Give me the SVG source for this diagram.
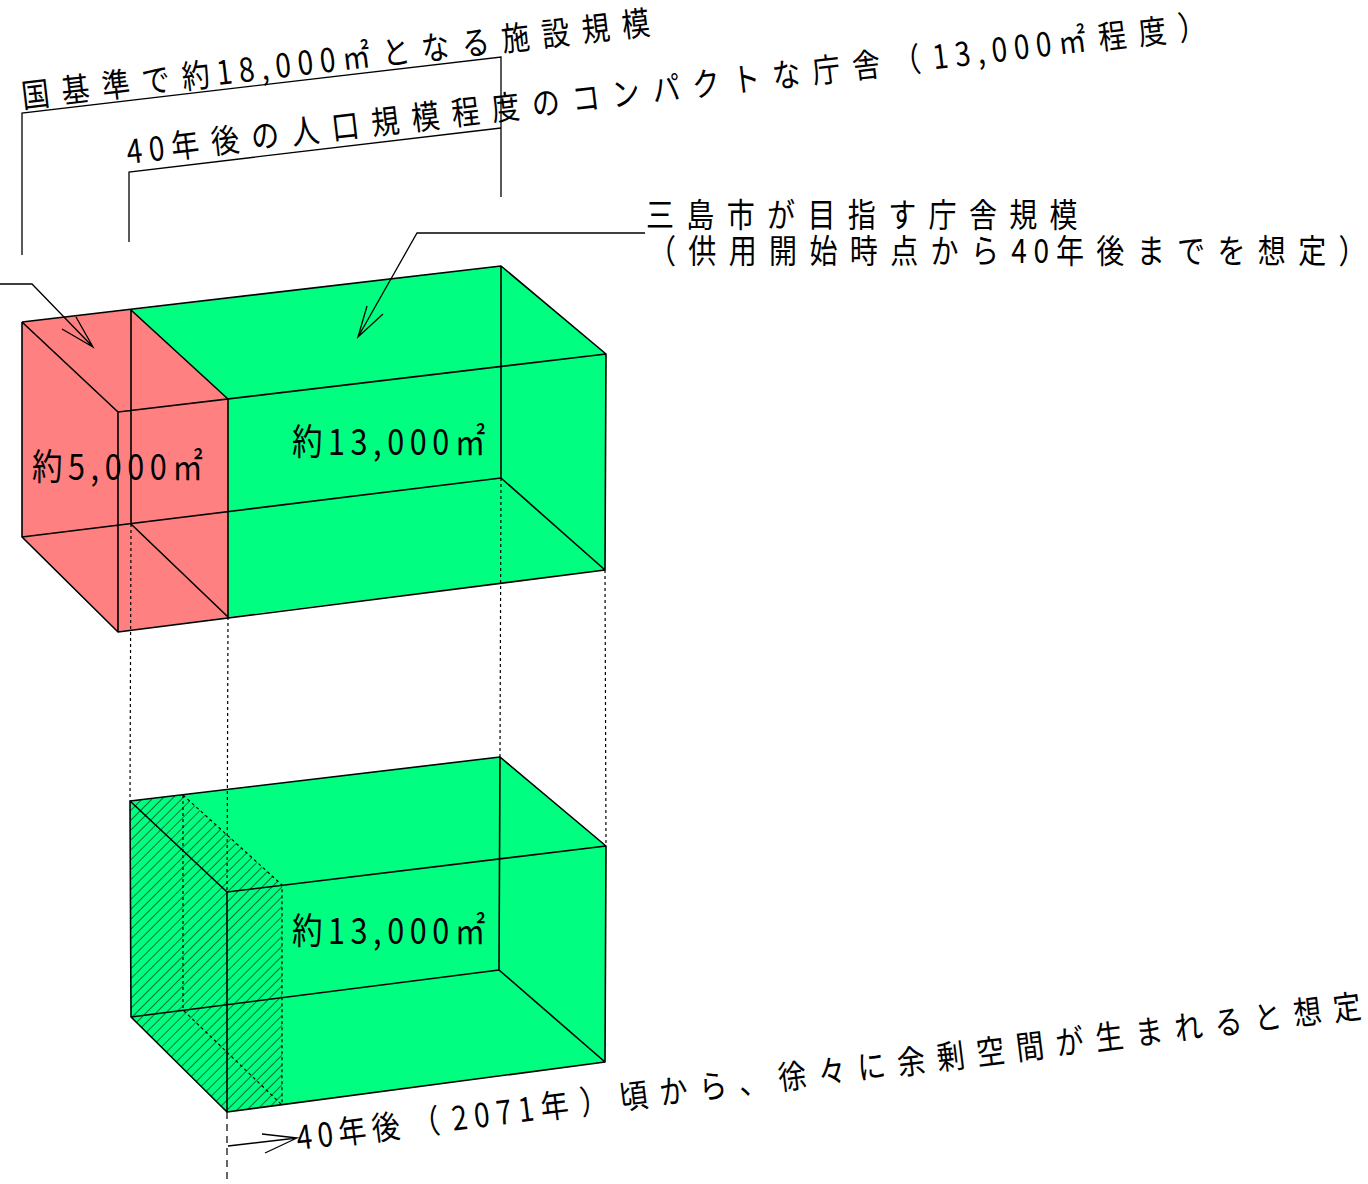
<svg xmlns="http://www.w3.org/2000/svg" width="1368" height="1184" viewBox="0 0 1368 1184">
<style>
.edge{fill:none;stroke:#000;stroke-width:1.6;stroke-linejoin:round}
.lead{fill:none;stroke:#000;stroke-width:1.3}
.dot{fill:none;stroke:#000;stroke-width:1.2;stroke-dasharray:3 3}
.dash{fill:none;stroke:#000;stroke-width:1.2;stroke-dasharray:7 5}
.pink{fill:#FF8080;stroke:none}
.green{fill:#00FF80;stroke:none}
.t{font-family:"Noto Sans CJK JP","Noto Sans",sans-serif;fill:#000;font-size:33px}
.big{font-size:36px}
.j{letter-spacing:14.5px}
.n{letter-spacing:8px}
.m{letter-spacing:6.5px}
</style>
<defs>
<pattern id="hatch" width="7" height="7" patternUnits="userSpaceOnUse" patternTransform="rotate(45)">
<line x1="0" y1="0" x2="0" y2="7" stroke="#000" stroke-width="1.1"/>
</pattern>
</defs>
<rect width="1368" height="1184" fill="#fff"/>

<g id="box-upper">
<polygon class="pink" points="22,322 131,310 228,399 228,617 118,632 22,537"/>
<polygon class="green" points="131,310 501,266 606,354 605,570 228,617 228,399"/>
<path class="edge" d="M22,322 L501,266 L606,354 L605,570 L118,632 L118,412 L606,354 M22,322 L118,412 M22,322 L22,537 L118,632 M22,537 L501,478 M501,266 L501,478 L605,570 M131,310 L131,524 L228,617 M131,310 L228,399 L228,617"/>
</g>

<g id="box-lower">
<polygon class="green" points="130,801 500,757 606,846 605,1062 227,1112 131,1017"/>
<polygon fill="url(#hatch)" points="130,801 183,795 282,885 282,1105 227,1112 131,1017"/>
<path class="edge" d="M130,801 L500,757 L606,846 L605,1062 L227,1112 L227,892 L606,846 M130,801 L227,892 M130,801 L131,1017 L227,1112 M131,1017 L499,970 M500,757 L499,970 L605,1062"/>
<path class="dot" d="M183,795 L282,885 L282,1105 M183,795 L183,1010 L282,1105"/>
</g>

<g id="connectors">
<path class="dot" d="M131,524 L130,801 M228,617 L227,892 M501,478 L500,757 M605,570 L606,846"/>
<path class="dash" d="M227,1112 L227,1184"/>
<path class="lead" d="M22,255 L22,113 L501,57 L501,197"/>
<path class="lead" d="M129,242 L129,172 L501,128"/>
<path class="lead" d="M0,284 L32,284 L93,347 M62,329 L93,347 L76,317"/>
<path class="lead" d="M645,233 L417,233 L358,337 M367,306 L358,337 L383,314"/>
<path class="lead" d="M228,1146 L297,1138 M262,1134 L297,1138 L265,1153"/>
</g>

<g id="labels">
<text class="t" transform="translate(23,108) rotate(-6.7) scale(0.85,1)"><tspan class="j">国基準で</tspan><tspan class="n">約18,000</tspan><tspan class="j">㎡となる施設規模</tspan></text>
<text class="t" transform="translate(128,164) rotate(-6.7) scale(0.85,1)"><tspan class="n">40</tspan><tspan class="j">年後の人口規模程度のコンパクトな庁舎（</tspan><tspan class="n">13,000</tspan><tspan class="j">㎡程度）</tspan></text>
<text class="t" transform="translate(646,227) scale(0.85,1)"><tspan class="j">三島市が目指す庁舎規模</tspan></text>
<text class="t" transform="translate(648,263) scale(0.85,1)"><tspan class="j">（供用開始時点から</tspan><tspan class="n">40</tspan><tspan class="j">年後までを想定）</tspan></text>
<text class="t big m" transform="translate(32,480) scale(0.85,1)">約5,000㎡</text>
<text class="t big m" transform="translate(292,455) scale(0.85,1)">約13,000㎡</text>
<text class="t big m" transform="translate(292,944) scale(0.85,1)">約13,000㎡</text>
<text class="t" transform="translate(298,1150) rotate(-7.1) scale(0.85,1)"><tspan class="m">40年</tspan><tspan class="j">後（</tspan><tspan class="n">2071</tspan><tspan class="j" style="letter-spacing:14px">年）頃から、徐々に余剰空間が生まれると想定</tspan></text>
</g>
</svg>
